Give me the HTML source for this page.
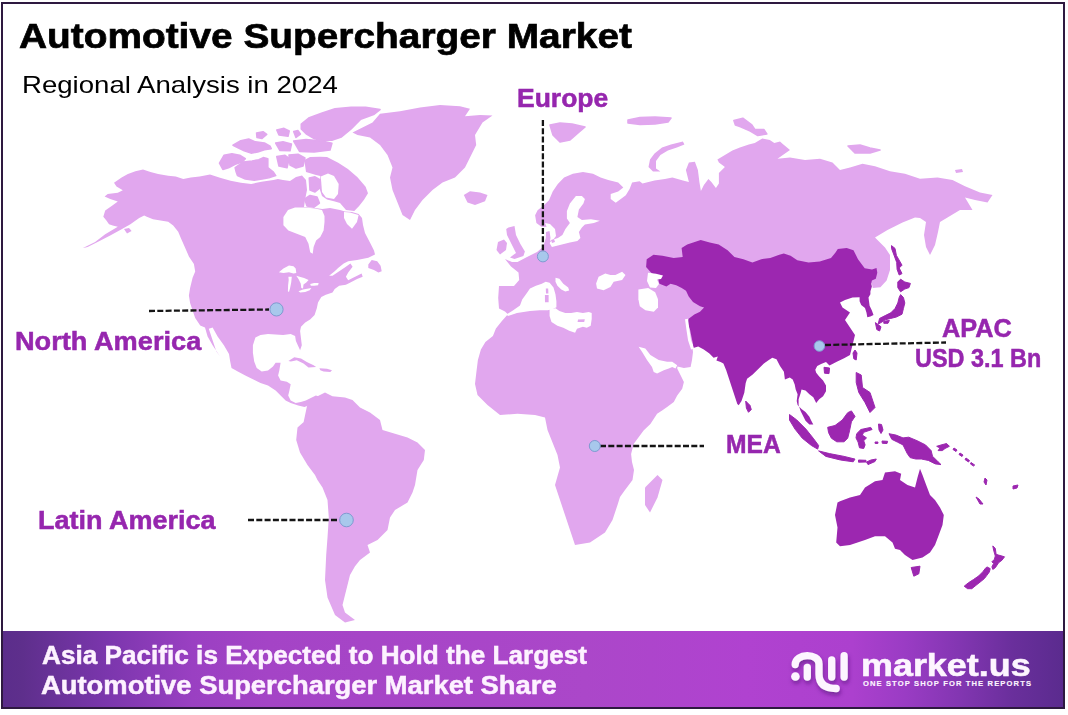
<!DOCTYPE html>
<html><head><meta charset="utf-8">
<style>
html,body{margin:0;padding:0;}
body{width:1068px;height:715px;position:relative;overflow:hidden;background:#fff;font-family:"Liberation Sans",sans-serif;}
.map{position:absolute;left:0;top:0;}
.frame{position:absolute;left:1px;top:2px;width:1060px;height:703px;border:2px solid #2e1940;}
.banner{position:absolute;left:1px;top:631px;width:1064px;height:78px;background:linear-gradient(90deg,#5b2d8b 0%,#5e2f8c 2%,#7b36ad 10%,#9a40c2 18%,#a444c6 25%,#ab47c9 55%,#b042d0 70%,#ac40ce 80%,#9a3cc4 85%,#8336b2 90%,#6a2f9c 95%,#5a2b8e 100%);}
.t{position:absolute;white-space:nowrap;line-height:1;transform-origin:0 0;}
.title{-webkit-text-stroke:0.7px #000;}
.sub{left:24px;top:73px;font-size:23px;color:#111;}
.lbl{font-weight:bold;color:#9626ae;font-size:25px;-webkit-text-stroke:0.5px #9626ae;}
.ban{font-weight:bold;color:#fdf2ff;-webkit-text-stroke:0.5px #fdf2ff;}
.logo{position:absolute;left:0;top:0;}
</style></head><body>
<svg class="map" width="1068" height="715" viewBox="0 0 1068 715">
<g fill="#e1a7ee"><path d="M114.0,182.7L121.6,177.6L127.9,173.9L135.4,171.3L143.0,169.4L150.5,172.0L158.1,173.9L168.2,175.7L175.7,176.4L183.3,178.9L190.8,177.6L199.6,176.4L210.0,174.5L220.0,177.7L230.6,180.8L240.9,182.8L251.2,183.9L261.5,181.8L273.4,180.1L277.9,178.9L283.0,180.0L290.0,181.0L296.0,177.0L302.0,175.5L306.0,180.0L307.0,190.0L305.0,200.0L304.0,207.0L315.0,208.0L322.3,209.0L330.0,208.0L340.0,210.0L345.0,211.5L352.0,212.0L358.6,214.0L362.0,218.0L363.0,225.0L365.0,233.0L370.6,243.8L374.0,250.5L375.0,254.5L368.3,257.8L357.1,260.1L348.2,261.2L343.7,263.4L338.1,267.9L334.7,271.3L329.1,275.7L332.5,275.7L339.2,271.3L345.9,266.8L350.4,263.4L352.6,266.8L348.2,272.4L345.9,276.8L348.2,280.2L352.6,278.0L357.1,275.7L361.6,273.5L362.7,276.8L357.1,279.1L350.4,282.4L345.9,284.7L339.2,285.8L334.7,289.1L332.5,292.5L325.8,294.7L321.3,297.0L318.0,302.6L316.8,308.2L314.6,314.9L310.1,319.4L305.2,322.5L301.0,326.7L300.1,330.9L301.0,338.5L301.8,345.2L300.1,350.2L298.5,346.8L295.9,341.0L295.1,335.9L290.7,333.9L283.1,335.1L275.6,334.5L268.0,333.9L260.5,335.1L255.4,337.6L252.9,345.2L252.9,352.7L254.2,361.6L256.7,367.9L261.7,371.6L268.0,370.4L273.0,366.6L275.6,362.8L280.6,362.8L279.3,370.4L278.1,375.4L280.6,380.5L286.9,381.7L290.7,384.2L289.4,390.5L288.2,395.6L290.7,400.6L295.7,403.1L300.8,401.9L305.8,400.6L310.8,398.1L315.9,395.6L320.0,396.8L312.0,404.0L304.5,406.9L298.2,405.6L290.7,403.1L285.6,400.6L280.6,395.6L275.6,390.5L268.0,385.5L260.5,383.0L252.9,379.2L245.3,375.4L237.8,371.6L231.5,367.9L230.2,361.6L229.0,354.0L223.9,345.2L217.6,336.4L212.6,327.6L208.8,328.8L212.6,340.2L216.4,351.5L220.2,356.5L217.6,352.7L212.6,345.2L207.6,336.4L205.0,327.6L200.2,325.6L195.2,318.1L192.6,310.5L190.1,303.0L188.9,295.4L190.1,287.9L192.6,277.8L195.2,271.5L193.9,264.0L188.9,256.4L185.0,247.6L180.8,238.1L178.2,231.8L173.2,225.5L168.2,221.7L160.6,220.5L153.0,219.2L146.8,216.7L144.2,215.4L139.2,217.9L130.4,224.2L121.6,229.3L110.2,235.6L97.6,241.9L87.6,246.9L82.5,248.2L85.0,246.9L95.1,241.9L105.2,234.3L117.8,226.8L112.7,225.5L109.0,224.2L106.4,220.5L103.3,216.7L105.2,210.4L112.7,205.3L117.8,201.6L110.2,199.0L104.6,196.5L107.7,194.0L117.8,192.7L122.8,190.2L116.5,186.4Z"/><path d="M304.3,160.0L310.0,157.0L320.0,156.7L327.0,157.1L338.2,162.7L347.9,169.1L357.5,177.2L365.6,186.8L368.0,193.2L364.0,199.7L359.1,206.1L354.3,211.0L346.0,210.0L340.0,203.0L334.0,201.3L327.0,199.5L322.0,196.0L320.0,190.0L320.3,176.0L316.0,175.0L306.0,172.0Z"/><path d="M380.0,113.8L400.0,111.2L420.0,107.5L440.0,105.0L460.0,106.2L470.0,108.8L465.0,116.2L480.0,115.0L492.5,115.5L482.5,122.5L475.0,135.0L476.2,145.0L470.0,157.5L465.0,167.5L455.0,177.5L442.5,182.5L432.5,190.0L422.5,200.0L415.0,210.0L410.0,220.0L402.5,215.0L397.5,202.5L392.5,190.0L390.0,177.5L392.5,167.5L387.5,155.0L380.0,145.0L370.0,137.5L357.5,135.0L352.5,132.5L362.5,127.5L372.5,122.5Z"/><path d="M463.8,195.0L470.0,191.2L480.0,192.5L487.5,195.0L485.0,201.2L475.0,205.0L467.5,202.5Z"/><path d="M508.5,227.4L514.5,226.0L516.0,234.9L520.4,243.9L524.9,251.4L523.4,255.9L514.5,258.9L510.0,257.4L516.0,252.9L513.0,246.9L510.0,240.9L507.0,234.9L506.2,228.9Z"/><path d="M498.0,242.0L504.0,239.4L507.0,243.0L506.0,250.0L500.0,254.4L496.5,250.0Z"/><path d="M682.9,141.5L684.4,144.5L676.9,147.5L667.9,150.4L660.4,154.9L656.0,160.9L656.0,168.4L660.4,171.4L653.0,171.4L648.5,166.9L650.0,159.4L654.5,153.4L662.0,147.5L670.9,144.5Z"/><path d="M955.0,170.0L962.0,169.0L963.0,172.0L956.0,173.0Z"/><path d="M541.4,226.7L536.4,222.9L535.1,215.3L537.6,210.3L543.9,205.3L549.0,200.2L552.7,191.4L557.8,183.9L564.1,177.6L572.9,173.8L583.0,171.9L593.0,173.8L600.6,177.6L608.2,180.1L618.2,182.6L623.3,187.6L618.2,191.4L610.7,193.9L610.7,199.0L615.7,202.7L620.8,199.0L625.8,195.2L629.6,188.9L632.1,182.6L639.6,181.3L642.5,183.4L654.5,180.4L664.9,178.9L672.4,177.4L682.9,180.4L688.9,181.9L685.9,169.9L688.9,162.4L694.9,161.7L697.9,169.9L699.4,181.9L700.9,190.9L703.9,184.9L708.4,178.9L711.4,181.9L715.9,187.9L718.9,183.4L718.9,172.9L724.9,166.9L718.9,162.4L717.4,159.4L724.9,154.9L732.4,150.4L739.9,147.5L748.8,144.5L754.8,143.0L762.3,138.5L769.8,140.0L774.3,143.0L780.0,141.5L782.5,143.8L790.0,150.0L777.5,158.8L790.0,157.5L805.0,160.0L820.0,158.8L832.5,162.5L840.0,170.0L850.0,167.5L862.5,163.8L875.0,166.2L890.0,171.2L905.0,173.8L920.0,178.8L937.5,177.5L952.5,180.0L965.0,186.2L980.0,192.5L992.5,195.0L987.5,202.5L975.0,200.0L965.0,197.5L972.5,210.0L960.0,210.0L947.5,217.5L940.0,222.0L938.0,232.0L935.0,245.0L930.0,255.0L926.0,247.0L924.0,235.0L926.0,222.0L920.0,218.0L915.0,217.5L902.5,222.5L887.5,230.0L875.0,237.5L885.0,247.5L890.0,255.0L890.0,270.0L886.6,280.6L880.4,287.3L872.7,288.1L871.9,283.5L860.0,285.0L820.0,300.0L760.0,330.0L700.0,335.0L692.0,345.0L693.0,352.0L692.0,360.0L690.6,366.9L683.9,368.0L677.5,366.5L677.2,368.5L680.6,375.2L683.9,382.0L682.2,388.7L677.2,395.4L673.8,402.1L667.1,407.1L662.1,410.5L657.1,413.8L650.4,423.9L643.6,430.6L638.6,437.3L633.6,444.1L631.1,454.1L632.0,462.0L634.0,470.0L632.5,480.0L625.0,490.0L620.0,497.0L617.5,505.0L612.5,520.0L605.0,532.5L590.0,542.5L575.0,545.0L570.0,530.0L565.0,515.0L560.0,500.0L555.0,485.0L560.0,467.5L557.5,455.0L552.5,442.5L547.5,430.0L545.0,417.5L535.0,415.0L517.5,413.8L500.0,415.0L487.5,405.0L477.5,395.0L475.0,384.0L476.4,371.9L477.9,360.0L480.9,349.4L485.4,342.0L492.9,336.0L495.9,328.5L501.9,321.0L507.9,314.2L505.0,311.4L499.0,308.4L498.2,298.0L499.0,286.0L514.0,286.0L519.2,280.0L518.5,272.5L511.0,266.5L505.0,259.0L512.0,262.0L517.5,262.0L527.0,257.0L537.0,252.0L543.0,247.0L545.0,241.0L547.7,233.0L548.5,226.0L551.0,229.0L553.0,227.0Z"/><path d="M645.0,505.0L645.0,487.5L657.5,475.0L662.5,480.0L657.5,497.5L650.0,512.5Z"/><path d="M307.0,406.0L310.0,400.0L320.0,395.0L325.0,392.5L332.5,396.2L345.0,397.5L352.5,400.0L360.0,407.5L370.0,412.5L380.0,420.0L382.5,430.0L395.0,433.8L407.5,437.5L417.5,442.5L425.0,450.0L423.8,460.0L417.5,470.0L415.0,485.0L412.5,492.5L407.5,502.5L395.0,510.0L390.0,517.5L387.5,530.0L377.5,540.0L367.5,545.0L370.0,552.5L360.0,560.0L355.0,566.2L350.0,575.0L347.5,585.0L345.0,595.0L342.5,605.0L345.0,612.5L355.0,620.0L345.0,622.5L335.0,615.0L327.5,597.5L325.0,580.0L326.2,555.0L327.5,537.5L328.8,517.5L327.5,500.0L322.5,487.5L317.5,480.0L315.0,475.0L307.5,465.0L300.0,452.5L296.2,440.0L297.5,427.5L308.3,418.0L303.0,425.0Z"/><path d="M288.4,361.1L294.3,357.3L301.0,358.6L306.8,361.9L313.6,365.3L316.1,367.0L308.5,367.4L303.5,363.6L296.8,360.3L290.9,361.6Z"/><path d="M319.4,368.2L327.0,368.7L332.0,370.3L330.3,372.0L323.6,371.6L320.3,370.3Z"/><path d="M368.3,264.5L371.7,260.1L377.2,261.2L380.6,265.7L381.7,271.3L378.4,272.4L373.9,270.1L368.3,267.9Z"/><path d="M124.0,229.0L129.0,228.0L131.6,231.0L127.0,233.5Z"/></g>
<g fill="#e1a7ee" stroke="#e1a7ee" stroke-width="1.6" stroke-linejoin="round"><path d="M301.3,124.1L309.3,117.7L322.2,112.9L335.0,108.8L351.1,107.2L365.6,107.2L380.0,109.6L373.6,114.5L360.7,119.3L351.1,128.9L341.4,137.0L331.8,140.2L322.2,140.2L314.1,138.6L306.1,133.8L301.3,128.9Z"/><path d="M293.7,141.0L306.1,139.6L322.2,141.0L331.9,143.4L330.0,150.0L314.1,152.0L299.6,151.4Z"/><path d="M233.0,145.2L240.8,140.7L248.7,139.0L255.4,141.9L264.4,143.0L270.1,146.3L271.2,148.6L264.4,149.7L257.7,152.0L251.0,153.1L244.2,150.8L237.5,147.5Z"/><path d="M256.6,133.0L263.0,131.7L266.7,134.5L262.0,138.5L257.0,137.5Z"/><path d="M276.8,130.0L284.0,128.4L289.2,131.0L288.0,136.2L279.0,135.0Z"/><path d="M219.5,163.2L224.0,155.3L231.9,153.7L239.7,155.3L245.3,158.7L242.0,162.1L235.2,164.3L228.5,167.7L222.9,169.4Z"/><path d="M235.2,167.7L243.1,162.1L252.1,161.0L258.8,159.8L263.3,157.6L267.8,158.7L267.8,167.7L273.4,172.2L275.7,175.6L268.9,177.8L262.2,178.9L254.3,180.1L245.3,178.9L237.5,175.6L236.3,172.2Z"/><path d="M293.7,131.5L298.0,130.6L300.4,134.0L296.0,137.4Z"/><path d="M550.0,125.0L560.0,123.0L572.0,124.0L585.0,127.0L578.0,133.0L570.0,140.0L560.0,142.0L553.0,135.0Z"/><path d="M628.0,120.0L640.0,117.5L655.0,117.0L671.0,118.0L668.0,122.0L655.0,124.0L640.0,124.5L628.0,123.0Z"/><path d="M733.9,120.5L742.8,118.2L751.8,125.0L754.8,129.5L763.8,129.5L766.8,134.0L757.8,135.5L750.3,131.0L739.9,126.5L735.4,125.0Z"/><path d="M848.0,146.0L860.0,145.0L870.0,148.0L880.0,150.0L870.0,153.0L855.0,153.0Z"/><path d="M304.7,199.0L310.0,195.5L317.0,197.0L319.4,203.0L314.0,207.2L307.0,206.0Z"/><path d="M275.7,143.0L283.0,141.9L291.4,144.0L290.0,150.8L280.0,150.5Z"/><path d="M276.8,156.5L285.0,155.3L289.2,158.5L287.0,167.7L279.0,166.0Z"/><path d="M289.0,155.0L298.0,154.2L304.9,158.0L303.0,166.0L296.0,168.0L290.0,165.0Z"/><path d="M309.3,178.0L315.0,176.9L320.3,180.0L320.0,188.0L315.0,192.0L310.0,190.0Z"/></g>
<g fill="#fff"><path d="M283.4,216.9L288.0,210.0L295.0,207.5L305.0,207.5L315.0,208.5L322.0,210.0L324.5,216.0L324.5,222.0L323.6,230.4L320.3,237.1L316.1,240.4L313.6,247.1L312.7,253.8L310.2,252.2L308.5,243.8L305.2,237.1L296.8,233.7L288.4,230.4L283.4,225.3Z"/><path d="M278.9,272.3L283.4,268.4L289.0,265.6L293.5,266.2L295.7,268.4L296.3,272.9L293.5,273.4L289.0,272.3L283.4,272.9Z"/><path d="M288.4,276.8L291.8,276.8L291.2,282.4L290.1,288.0L289.0,291.9L287.9,291.3L288.1,285.2L288.7,280.1Z"/><path d="M296.3,275.7L299.6,276.8L304.1,277.9L308.6,280.1L306.3,282.4L303.5,284.6L303.0,288.5L301.3,288.0L300.7,283.5L298.5,279.0Z"/><path d="M298.5,291.3L303.0,289.6L308.6,288.5L311.4,288.0L309.7,290.2L305.2,291.9L300.2,292.4Z"/><path d="M310.2,284.0L314.1,282.9L318.6,282.9L318.1,285.2L314.1,285.7L310.8,285.7Z"/><path d="M344.0,212.0L350.0,212.5L358.6,215.0L357.0,222.0L352.0,228.8L347.0,224.0L344.0,218.0Z"/><path d="M575.9,196.0L581.9,196.0L584.9,199.0L583.4,203.4L578.9,209.4L577.4,216.9L581.9,219.9L590.9,219.2L599.9,220.7L593.9,222.9L584.9,224.4L581.9,227.4L578.9,231.9L580.4,237.9L577.4,240.9L569.9,242.4L563.9,243.9L557.9,245.4L551.9,246.9L549.5,243.0L551.9,240.0L557.9,237.9L562.4,234.9L565.4,228.9L569.9,222.9L566.9,218.4L566.9,210.9L569.9,203.4Z"/><path d="M506.5,314.4L512.5,310.7L520.0,305.4L522.2,299.4L526.0,294.2L530.0,288.5L535.9,285.7L541.8,283.7L545.7,281.8L549.6,282.7L553.5,287.6L555.5,294.5L556.4,301.3L556.4,307.2L552.5,309.2L547.6,310.2L539.8,310.2L530.0,311.1L517.0,313.0L508.0,316.0Z"/><path d="M549.6,309.2L555.5,308.2L559.4,311.1L565.3,313.1L571.1,313.1L577.0,312.1L582.9,313.1L588.8,312.1L591.7,313.1L591.7,319.0L590.7,325.8L586.8,327.8L582.9,326.8L577.0,328.8L575.1,332.7L569.2,330.7L563.3,327.8L557.4,325.8L551.5,321.9L549.6,316.0Z"/><path d="M555.5,277.8L559.4,278.8L563.3,283.7L568.2,287.6L569.2,290.6L565.3,291.5L561.3,289.6L557.4,285.7L555.5,281.8Z"/><path d="M598.6,276.8L605.3,273.4L610.4,275.1L615.4,275.1L622.1,271.8L625.5,275.1L622.1,280.1L613.7,281.8L610.4,286.9L603.6,290.2L597.0,288.5L596.1,283.5Z"/><path d="M638.6,346.7L645.3,348.4L650.4,355.1L658.7,360.1L667.1,361.8L672.2,361.8L677.2,365.2L675.5,368.5L672.2,366.9L668.8,368.5L663.8,370.2L657.1,373.6L653.7,371.9L652.0,366.9L647.0,360.1L642.0,351.7Z"/><path d="M545.0,223.0L550.0,224.0L555.0,229.0L556.0,236.0L553.0,240.0L549.0,241.0L547.0,235.0L547.0,228.0Z"/><path d="M320.8,176.5L328.0,173.5L334.0,176.0L338.7,184.0L338.0,194.0L334.0,199.0L326.0,197.5L322.0,192.0Z"/></g>
<g fill="#e1a7ee"><path d="M546.0,232.0L549.5,231.0L550.5,238.0L549.0,246.0L545.5,246.0Z"/><path d="M551.0,240.0L554.0,239.0L555.0,242.0L552.0,243.0Z"/><path d="M545.8,288.6L548.2,288.6L548.4,293.5L546.0,293.5Z"/><path d="M544.9,295.0L548.6,295.0L548.6,302.3L545.0,302.3Z"/><path d="M578.0,319.6L584.8,319.2L584.2,322.0L577.6,322.0Z"/></g>
<g fill="#9c27b0"><path d="M646.7,259.2L653.5,254.7L662.5,255.8L673.7,258.1L682.7,257.0L681.6,248.0L687.2,244.6L700.7,240.1L709.7,242.4L718.7,244.6L727.6,250.2L734.4,257.0L743.4,259.2L752.4,262.6L761.3,259.2L770.3,258.1L779.3,254.7L783.8,253.6L790.6,255.8L797.3,260.3L808.5,262.6L819.8,261.5L831.0,258.1L835.5,252.5L837.8,249.1L846.7,248.0L853.5,250.2L858.0,259.2L864.7,268.2L872.0,269.5L876.5,268.1L877.3,272.7L875.8,278.8L871.9,280.4L871.2,283.5L871.9,286.5L870.4,291.2L870.4,294.2L868.5,297.5L869.6,305.8L871.9,310.4L873.5,315.0L870.4,316.5L867.3,317.3L866.5,312.7L865.0,308.1L861.2,305.0L859.6,301.2L859.6,297.3L852.5,297.5L845.0,300.0L840.0,302.5L842.5,307.5L850.0,312.5L845.0,320.0L850.0,327.5L855.0,335.0L852.5,345.0L850.0,355.0L844.1,358.2L836.8,361.8L829.5,365.5L826.0,362.0L821.1,363.9L817.2,365.9L815.3,369.8L816.2,372.7L819.2,376.6L823.1,380.6L826.0,385.5L826.0,391.3L823.1,396.2L819.2,399.2L816.2,403.1L813.3,397.2L809.4,394.3L805.5,390.4L801.5,389.4L800.6,393.3L798.6,399.2L798.6,405.1L800.6,410.9L803.5,416.8L805.5,420.7L809.4,424.6L813.3,424.6L811.3,420.7L809.4,416.8L805.5,411.9L801.5,409.0L797.6,405.1L796.7,401.1L797.6,394.3L795.7,389.4L794.7,384.5L792.7,379.6L789.8,377.6L784.9,379.6L783.9,371.8L780.0,365.9L776.5,359.2L772.3,357.8L768.1,360.6L763.9,363.4L758.3,369.0L752.7,374.5L747.1,378.7L745.7,382.9L744.3,392.7L741.5,401.1L738.7,405.3L737.3,403.9L734.5,395.5L731.7,387.1L729.0,378.7L726.2,370.3L723.4,363.4L720.6,362.0L716.4,360.6L717.8,356.4L713.6,357.8L709.4,353.6L703.8,349.4L698.2,346.6L693.3,348.0L693.0,344.0L691.5,337.0L690.1,330.0L687.3,323.0L688.7,318.7L694.3,314.5L700.0,311.7L704.1,307.6L700.0,306.2L693.0,302.0L688.7,296.4L686.0,290.8L681.7,288.0L676.2,285.2L670.6,283.8L666.4,286.6L659.4,283.8L658.0,278.0L651.0,272.6L646.1,267.0Z"/><path d="M837.5,502.5L835.0,515.0L837.5,527.5L836.2,542.5L840.0,546.2L850.0,545.0L865.0,540.0L875.0,536.2L885.0,536.2L892.5,542.5L895.0,548.8L900.0,550.0L905.0,555.0L912.5,560.0L922.5,557.5L930.0,552.5L935.0,545.0L938.8,535.0L942.5,525.0L943.8,515.0L940.0,507.5L935.0,500.0L930.0,495.0L926.2,485.0L922.5,475.0L920.0,468.8L917.5,477.5L915.0,487.5L907.5,485.0L900.0,480.0L901.2,473.8L895.0,471.2L885.0,472.5L882.5,480.0L875.0,481.2L865.0,487.5L860.0,495.0L850.0,497.5L840.0,501.2Z"/></g>
<g fill="#9c27b0" stroke="#9c27b0" stroke-width="1" stroke-linejoin="round"><path d="M897.8,282.0L900.6,279.2L904.8,282.0L910.4,283.4L909.0,287.6L904.8,289.0L900.6,291.8L897.8,287.6Z"/><path d="M900.6,294.6L903.4,297.4L904.8,303.0L903.4,308.6L902.0,314.2L896.4,317.0L890.8,318.4L885.2,319.8L881.0,322.6L878.2,324.0L879.6,318.4L885.2,315.6L890.8,312.8L895.0,308.6L897.8,303.0L899.2,297.4Z"/><path d="M875.4,322.6L881.0,326.8L879.6,331.0L876.8,329.6Z"/><path d="M891.5,245.6L895.0,248.4L896.4,255.4L902.0,265.2L899.2,268.0L902.0,273.6L899.2,275.0L897.1,269.4L896.7,262.4L893.6,254.0L891.5,248.4Z"/><path d="M855.0,350.0L857.0,353.0L856.2,360.0L853.8,358.8L853.0,353.0Z"/><path d="M824.0,367.3L829.5,368.0L829.0,373.6L824.5,373.2Z"/><path d="M745.7,401.1L749.9,405.3L751.3,409.5L748.5,412.3L746.4,408.1Z"/><path d="M856.2,372.5L861.2,375.0L862.5,387.5L870.0,392.5L875.0,407.5L870.0,412.5L865.0,402.5L858.8,392.5L856.2,382.5Z"/><path d="M789.5,414.5L796.8,420.0L805.9,429.1L813.2,438.2L818.6,445.5L817.7,449.1L811.4,445.5L802.3,438.2L795.0,429.1L789.5,420.0Z"/><path d="M818.6,450.9L829.5,453.6L844.1,456.4L855.0,459.1L853.2,461.8L840.5,460.0L825.9,456.4Z"/><path d="M858.5,460.0L866.0,460.3L866.0,462.0L858.5,462.2Z"/><path d="M827.7,427.3L835.0,425.5L842.3,420.0L847.7,412.7L851.4,410.9L855.0,416.4L851.4,421.8L849.5,430.9L847.7,438.2L844.1,441.8L836.8,441.8L831.4,438.2L828.6,432.7Z"/><path d="M856.7,433.7L860.9,429.5L870.7,427.4L872.1,429.5L863.7,432.3L862.3,435.1L866.5,437.9L863.7,440.7L865.1,444.9L863.7,448.5L859.5,447.8L858.1,442.1L856.0,437.9Z"/><path d="M889.0,433.7L896.0,435.1L903.0,437.9L908.7,437.2L917.1,440.7L925.5,444.9L931.1,450.6L932.5,456.2L938.1,461.8L941.0,464.6L935.3,463.9L928.3,460.4L921.3,459.0L915.7,459.0L910.1,457.6L907.2,453.4L903.0,444.9L897.4,442.1L891.8,439.3Z"/><path d="M911.2,567.5L920.0,566.2L918.8,573.8L913.8,576.2Z"/><path d="M992.8,545.9L995.3,548.4L996.1,554.3L998.6,555.1L1004.5,556.8L1002.0,560.2L998.6,562.7L995.3,567.7L992.8,569.4L991.9,566.9L993.6,563.5L991.9,561.8L994.4,559.3L995.3,556.0L993.6,550.1Z"/><path d="M986.9,566.9L990.2,568.6L989.4,571.9L986.9,575.3L984.4,578.6L980.2,582.0L976.0,585.3L971.8,588.7L967.6,588.7L964.2,586.2L968.4,582.8L973.5,579.5L978.5,576.1L982.7,571.9L985.2,568.6Z"/><path d="M883.8,321.2L889.4,320.5L888.0,323.3L883.8,323.3Z"/><path d="M954.0,448.0L957.0,450.0L956.0,451.5L953.0,449.5Z"/><path d="M960.0,453.0L963.0,455.0L962.0,456.5L959.0,454.5Z"/><path d="M985.0,478.0L987.0,480.0L986.0,485.0L984.0,482.0Z"/><path d="M976.0,497.0L979.0,499.0L983.0,504.0L980.0,504.0Z"/><path d="M1013.0,486.0L1018.0,485.0L1017.0,488.0L1013.0,489.0Z"/><path d="M878.5,424.0L881.5,424.5L883.0,430.0L881.0,433.5L879.0,430.0Z"/><path d="M882.0,441.0L887.6,441.3L887.0,443.5L882.3,443.3Z"/><path d="M875.0,442.0L878.0,442.0L877.8,443.5L875.2,443.5Z"/><path d="M866.5,462.0L871.0,460.0L876.3,459.0L875.0,461.5L868.0,464.6Z"/><path d="M936.7,446.3L941.0,445.0L946.6,443.5L949.4,446.3L945.0,448.5L942.4,450.6L938.1,450.6L940.0,448.0Z"/><path d="M966.0,458.0L969.5,460.5L968.5,462.0L965.0,459.5Z"/><path d="M971.0,462.5L974.7,465.0L973.5,466.0L970.5,464.0Z"/></g>
<g fill="#fff"><path d="M648.0,272.8L656.0,273.8L663.0,275.5L661.0,279.0L657.0,279.5L659.0,284.0L656.0,288.0L650.0,287.5L647.0,281.0Z"/><path d="M638.4,289.4L648.2,288.0L655.2,292.2L658.0,299.2L658.0,307.6L653.8,311.7L645.4,310.3L639.8,306.2L638.4,299.2Z"/></g>
<path d="M686.5,319 L688,330 L689.5,340 L692.5,349" stroke="#fff" stroke-width="3" fill="none"/>
<g stroke="#151515" stroke-width="2.3" stroke-dasharray="6,2.3" fill="none">
<path d="M149,311 L269,309.5"/>
<path d="M542.9,120 L542.9,251"/>
<path d="M825,345 L946,342.5"/>
<path d="M600,446 L704,446"/>
<path d="M248,520 L339,520"/>
</g>
<g fill="#a8c8ec" stroke="#7f9ad0" stroke-width="1">
<circle cx="276.5" cy="309.4" r="6.6"/>
<circle cx="346.5" cy="520" r="6.8"/>
<circle cx="542.9" cy="256.4" r="5.5"/>
<circle cx="594.8" cy="446" r="5.5"/>
<circle cx="819.4" cy="346" r="5.3"/>
</g>
</svg>
<div class="banner"></div>
<div class="frame"></div>
<div class="t title" style="left:18.9px;top:19.2px;font-size:35.5px;font-weight:bold;color:#000;transform:scaleX(1.094);">Automotive Supercharger Market</div>
<div class="t" style="left:22.3px;top:72.6px;font-size:24px;color:#000;transform:scaleX(1.149);">Regional Analysis in 2024</div>
<div class="t lbl" style="left:517.2px;top:85.8px;transform:scaleX(1.06);">Europe</div>
<div class="t lbl" style="left:15.2px;top:328.7px;transform:scaleX(1.087);">North America</div>
<div class="t lbl" style="left:38px;top:507.6px;transform:scaleX(1.08);">Latin America</div>
<div class="t lbl" style="left:942.1px;top:316px;transform:scaleX(1.012);">APAC</div>
<div class="t lbl" style="left:914.7px;top:345.6px;transform:scaleX(0.937);">USD 3.1 Bn</div>
<div class="t lbl" style="left:725.9px;top:432.3px;transform:scaleX(0.985);">MEA</div>
<div class="t ban" style="left:41.5px;top:642px;font-size:26.5px;transform:scaleX(0.987);">Asia Pacific is Expected to Hold the Largest</div>
<div class="t ban" style="left:41.4px;top:672.4px;font-size:26.1px;transform:scaleX(1.049);">Automotive Supercharger Market Share</div>
<svg class="logo" width="1068" height="715" viewBox="0 0 1068 715">
<defs><filter id="sh" x="-20%" y="-20%" width="140%" height="160%"><feGaussianBlur in="SourceAlpha" stdDeviation="2.2"/><feOffset dx="1" dy="3" result="b"/><feFlood flood-color="#4a1470" flood-opacity="0.55"/><feComposite in2="b" operator="in"/><feMerge><feMergeNode/><feMergeNode in="SourceGraphic"/></feMerge></filter></defs>
<g filter="url(#sh)">
<g fill="none" stroke="#fdf5ff" stroke-linecap="round" stroke-width="7.3">
<path d="M795.2,664.6 C795.2,652.8 819,652.8 819,664 L819,674 C819,684 825,688.5 836.2,688.5"/>
<path d="M807.3,667.4 L807.3,677"/>
<path d="M831.7,660 L831.7,677"/>
<path d="M844.1,655.7 L844.1,677"/>
</g>
<circle cx="795.4" cy="676.5" r="4.3" fill="#fdf5ff"/>
</g>
</svg>
<div class="t" style="left:860.5px;top:649.3px;font-size:32px;font-weight:bold;color:#fdf5ff;-webkit-text-stroke:0.6px #fdf5ff;transform:scaleX(1.122);">market.us</div>
<div class="t" style="left:862.9px;top:680.3px;font-size:7.6px;font-weight:bold;color:#fdf5ff;letter-spacing:1.12px;-webkit-text-stroke:0.15px #fdf5ff;">ONE STOP SHOP FOR THE REPORTS</div>
</body></html>
